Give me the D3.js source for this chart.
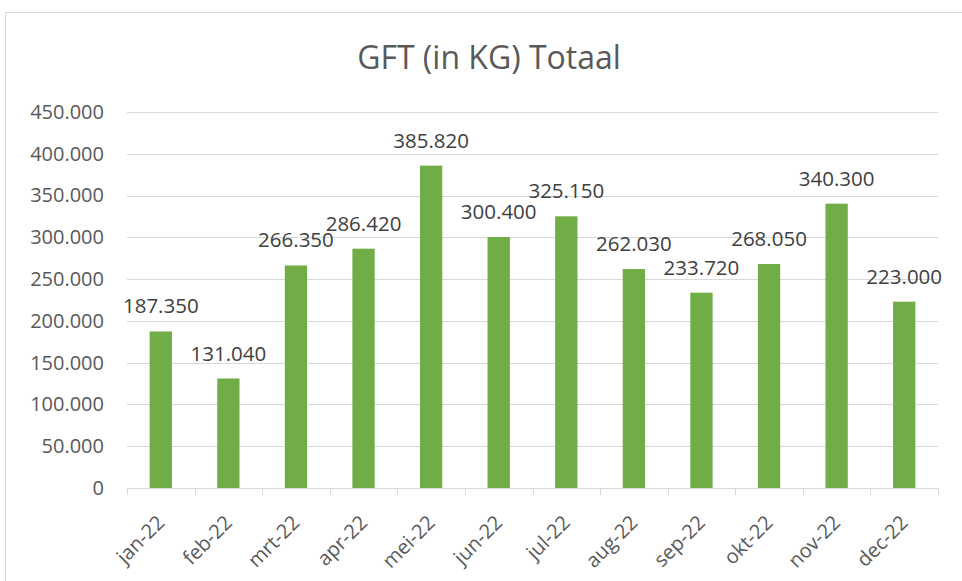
<!DOCTYPE html>
<html>
<head>
<meta charset="utf-8">
<script src="https://cdn.jsdelivr.net/npm/d3@7"></script>
<style>
  body { margin: 0; background: #fff; }
  text { font-family: "Open Sans", "Noto Sans", sans-serif; }
</style>
</head>
<body>
<div id="chart"></div>
<script>
// data
var months = ["jan-22", "feb-22", "mrt-22", "apr-22", "mei-22", "jun-22",
              "jul-22", "aug-22", "sep-22", "okt-22", "nov-22", "dec-22"];
var totals = [187350, 131040, 266350, 286420, 385820, 300400,
              325150, 262030, 233720, 268050, 340300, 223000];
var yTicks = [0, 50000, 100000, 150000, 200000, 250000, 300000, 350000, 400000, 450000];
var title = "GFT (in KG) Totaal";

var W = 962, H = 581;
var margin = {left: 127, right: 24, top: 112, bottom: 93};
var iw = W - margin.left - margin.right,
    ih = H - margin.top - margin.bottom;

// dutch number format
var nl = d3.formatLocale({decimal: ",", thousands: ".", grouping: [3], currency: ["€", ""]});
var fmt = nl.format(",.0f");

var svg = d3.select("#chart").append("svg")
  .attr("width", W)
  .attr("height", H);

// outer chart border (runs off the right and bottom edges)
svg.append("rect")
  .attr("x", 5.5).attr("y", 12.5)
  .attr("width", W).attr("height", H)
  .attr("fill", "none")
  .attr("stroke", "#d9d9d9");

svg.append("text")
  .attr("x", 489).attr("y", 69)
  .attr("text-anchor", "middle")
  .attr("font-size", 32)
  .attr("fill", "#595959")
  .text(title);

var g = svg.append("g").attr("transform", "translate(" + margin.left + "," + margin.top + ")");

var x = d3.scaleBand().domain(months).range([0, iw]).paddingInner(0.67).paddingOuter(0.335);
var y = d3.scaleLinear().domain([0, 450000]).range([ih, 0]);

// gridlines
g.append("g").selectAll("line")
  .data(yTicks.slice(1))
  .enter().append("line")
    .attr("x1", 0).attr("x2", iw)
    .attr("y1", function(d) { return Math.round(y(d)) + 0.5; })
    .attr("y2", function(d) { return Math.round(y(d)) + 0.5; })
    .attr("stroke", "#d9d9d9");

// y axis labels
var yAxis = g.append("g")
  .call(d3.axisLeft(y).tickValues(yTicks).tickFormat(fmt).tickSize(0).tickPadding(23));
yAxis.select(".domain").remove();
yAxis.selectAll("text")
  .attr("font-size", 20)
  .attr("fill", "#595959")
  .style("font-family", "'Open Sans', sans-serif");

// bars
g.selectAll("rect.bar")
  .data(totals)
  .enter().append("rect")
    .attr("class", "bar")
    .attr("x", function(d, i) { return x(months[i]); })
    .attr("y", function(d) { return y(d); })
    .attr("width", x.bandwidth())
    .attr("height", function(d) { return ih - y(d); })
    .attr("fill", "#70ad47");

// data labels
g.selectAll("text.lbl")
  .data(totals)
  .enter().append("text")
    .attr("class", "lbl")
    .attr("x", function(d, i) { return x(months[i]) + x.bandwidth() / 2; })
    .attr("y", function(d) { return y(d) - 18; })
    .attr("text-anchor", "middle")
    .attr("font-size", 20.5)
    .attr("fill", "#404040")
    .text(function(d) { return fmt(d); });

// x axis
var step = x.step();
var xAxis = g.append("g")
  .attr("transform", "translate(0," + ih + ")");
xAxis.append("line")
  .attr("x1", 0).attr("x2", iw)
  .attr("y1", 0.5).attr("y2", 0.5)
  .attr("stroke", "#d9d9d9");
xAxis.selectAll("line.tick")
  .data(d3.range(months.length + 1))
  .enter().append("line")
    .attr("class", "tick")
    .attr("x1", function(i) { return Math.round(i * step) + 0.5; })
    .attr("x2", function(i) { return Math.round(i * step) + 0.5; })
    .attr("y1", 0).attr("y2", 7)
    .attr("stroke", "#d9d9d9");
xAxis.selectAll("text")
  .data(months)
  .enter().append("text")
    .attr("transform", function(d) {
      return "translate(" + (x(d) + x.bandwidth() / 2) + ",31) rotate(-45)";
    })
    .attr("text-anchor", "end")
    .attr("dy", "0.35em")
    .attr("font-size", 20)
    .attr("fill", "#595959")
    .text(function(d) { return d; });
</script>
</body>
</html>
